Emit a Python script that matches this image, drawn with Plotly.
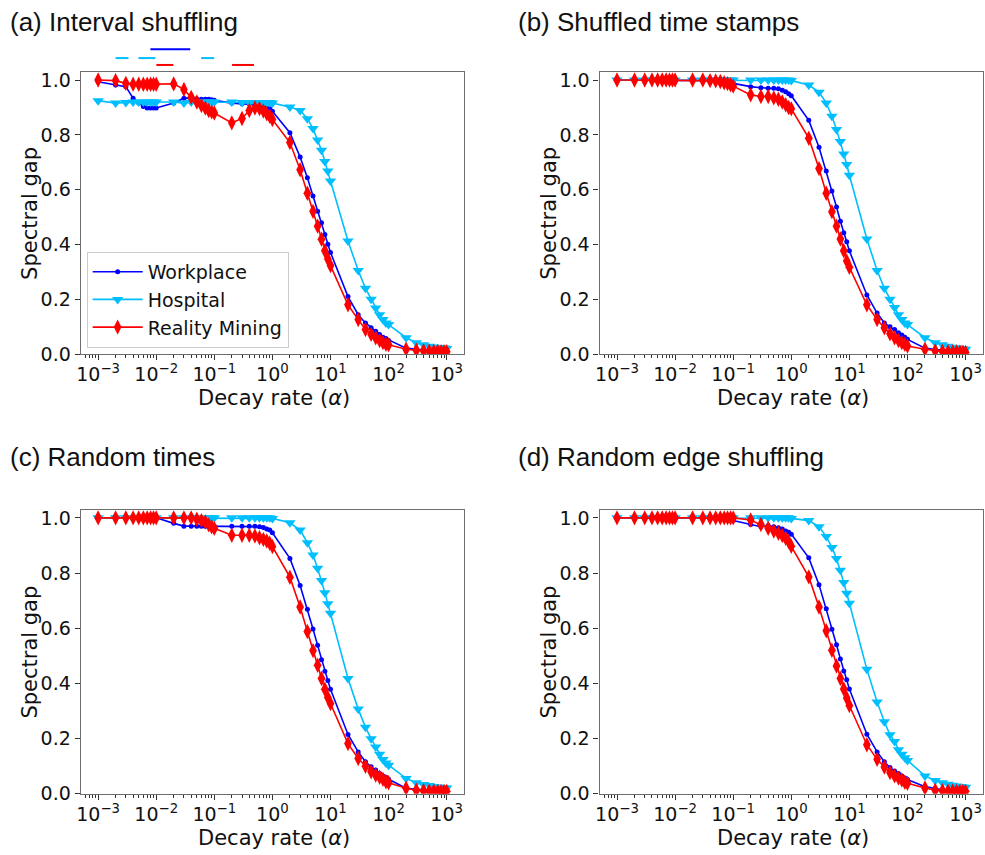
import plotly.graph_objects as go

# ---------------- data ----------------
alpha = [0.001, 0.002, 0.003, 0.004, 0.005, 0.006, 0.007, 0.008, 0.009,
         0.01, 0.02, 0.03, 0.04, 0.05, 0.06, 0.07, 0.08, 0.09,
         0.1, 0.2, 0.3, 0.4, 0.5, 0.6, 0.7, 0.8, 0.9,
         1, 2, 3, 4, 5, 6, 7, 8, 9,
         10, 20, 30, 40, 50, 60, 70, 80, 90,
         100, 200, 300, 400, 500, 600, 700, 800, 900,
         1000]

# (a) Interval shuffling
a_work = [0.994, 0.982, 0.976, 0.934, 0.916, 0.904, 0.898, 0.898, 0.898,
          0.898, 0.916, 0.934, 0.934, 0.932, 0.930, 0.930, 0.930, 0.928,
          0.926, 0.916, 0.914, 0.913, 0.910, 0.908, 0.904, 0.898, 0.895,
          0.886, 0.808, 0.719, 0.644, 0.577, 0.521, 0.479, 0.437, 0.401,
          0.371, 0.210, 0.144, 0.114, 0.096, 0.084, 0.072, 0.062, 0.057,
          0.050, 0.022, 0.018, 0.016, 0.015, 0.014, 0.013, 0.013, 0.012,
          0.012]
a_hosp = [0.925, 0.916, 0.918, 0.920, 0.920, 0.920, 0.920, 0.920, 0.920,
          0.920, 0.920, 0.916, 0.920, 0.920, 0.920, 0.920, 0.920, 0.920,
          0.920, 0.920, 0.918, 0.918, 0.918, 0.918, 0.918, 0.918, 0.918,
          0.916, 0.902, 0.889, 0.859, 0.823, 0.781, 0.744, 0.703, 0.668,
          0.632, 0.413, 0.305, 0.240, 0.200, 0.168, 0.144, 0.126, 0.114,
          0.108, 0.060, 0.042, 0.034, 0.029, 0.026, 0.024, 0.023, 0.022,
          0.021]
a_real = [1.000, 0.998, 0.988, 0.985, 0.985, 0.985, 0.985, 0.985, 0.985,
          0.985, 0.986, 0.966, 0.937, 0.920, 0.907, 0.898, 0.889, 0.884,
          0.880, 0.844, 0.860, 0.889, 0.898, 0.896, 0.887, 0.877, 0.868,
          0.856, 0.772, 0.673, 0.587, 0.521, 0.467, 0.419, 0.377, 0.347,
          0.323, 0.180, 0.126, 0.090, 0.072, 0.060, 0.050, 0.042, 0.036,
          0.034, 0.018, 0.014, 0.012, 0.011, 0.010, 0.010, 0.009, 0.009,
          0.009]

# (b) Shuffled time stamps
b_work = [1.0, 1.0, 1.0, 1.0, 1.0, 1.0, 1.0, 1.0, 1.0,
          1.0, 1.0, 1.0, 0.998, 0.997, 0.996, 0.995, 0.993, 0.991,
          0.988, 0.976, 0.972, 0.970, 0.970, 0.968, 0.963, 0.957, 0.950,
          0.943, 0.853, 0.755, 0.668, 0.595, 0.537, 0.485, 0.443, 0.410,
          0.377, 0.216, 0.150, 0.114, 0.100, 0.090, 0.078, 0.070, 0.062,
          0.054, 0.022, 0.017, 0.015, 0.014, 0.013, 0.012, 0.012, 0.011,
          0.011]
b_hosp = [1.0, 1.0, 1.0, 1.0, 1.0, 1.0, 1.0, 1.0, 1.0,
          1.0, 1.0, 1.0, 1.0, 1.0, 1.0, 1.0, 1.0, 1.0,
          1.0, 1.0, 1.0, 1.0, 1.0, 1.0, 1.0, 1.0, 1.0,
          0.998, 0.982, 0.956, 0.916, 0.868, 0.820, 0.776, 0.730, 0.692,
          0.653, 0.420, 0.305, 0.240, 0.200, 0.170, 0.144, 0.126, 0.114,
          0.108, 0.060, 0.042, 0.034, 0.029, 0.025, 0.023, 0.021, 0.020,
          0.018]
b_real = [1.0, 1.0, 1.0, 1.0, 1.0, 1.0, 1.0, 1.0, 1.0,
          1.0, 1.0, 1.0, 0.998, 0.997, 0.995, 0.990, 0.987, 0.983,
          0.978, 0.946, 0.940, 0.940, 0.935, 0.930, 0.920, 0.910, 0.900,
          0.895, 0.788, 0.677, 0.587, 0.520, 0.467, 0.420, 0.377, 0.340,
          0.317, 0.180, 0.126, 0.096, 0.074, 0.060, 0.050, 0.042, 0.036,
          0.030, 0.018, 0.012, 0.010, 0.009, 0.008, 0.008, 0.007, 0.007,
          0.006]

# (c) Random times
c_work = [1.0, 1.0, 1.0, 1.0, 1.0, 1.0, 1.0, 1.0, 1.0,
          1.0, 0.980, 0.970, 0.970, 0.970, 0.970, 0.970, 0.970, 0.970,
          0.970, 0.970, 0.970, 0.970, 0.970, 0.968, 0.965, 0.960, 0.956,
          0.946, 0.853, 0.755, 0.669, 0.597, 0.538, 0.486, 0.444, 0.411,
          0.379, 0.215, 0.152, 0.116, 0.098, 0.086, 0.074, 0.065, 0.060,
          0.053, 0.020, 0.016, 0.014, 0.013, 0.012, 0.012, 0.012, 0.012,
          0.012]
c_hosp = [1.0, 1.0, 1.0, 1.0, 1.0, 1.0, 1.0, 1.0, 1.0,
          1.0, 1.0, 1.0, 1.0, 1.0, 1.0, 1.0, 1.0, 1.0,
          1.0, 1.0, 1.0, 1.0, 1.0, 1.0, 1.0, 1.0, 1.0,
          0.998, 0.982, 0.956, 0.910, 0.865, 0.817, 0.773, 0.729, 0.689,
          0.654, 0.418, 0.307, 0.241, 0.200, 0.170, 0.143, 0.124, 0.112,
          0.104, 0.056, 0.040, 0.034, 0.030, 0.027, 0.025, 0.023, 0.022,
          0.021]
c_real = [1.0, 1.0, 1.0, 1.0, 1.0, 1.0, 1.0, 1.0, 1.0,
          1.0, 1.0, 1.0, 1.0, 0.995, 0.990, 0.985, 0.975, 0.968,
          0.962, 0.937, 0.937, 0.937, 0.934, 0.928, 0.922, 0.916, 0.908,
          0.896, 0.785, 0.677, 0.588, 0.519, 0.466, 0.418, 0.379, 0.349,
          0.327, 0.182, 0.128, 0.100, 0.080, 0.068, 0.060, 0.053, 0.044,
          0.040, 0.020, 0.013, 0.011, 0.010, 0.010, 0.009, 0.009, 0.009,
          0.009]

# (d) Random edge shuffling
d_work = [1.0, 1.0, 1.0, 1.0, 1.0, 1.0, 1.0, 1.0, 1.0,
          1.0, 1.0, 1.0, 1.0, 1.0, 1.0, 1.0, 1.0, 1.0,
          0.990, 0.976, 0.968, 0.972, 0.968, 0.964, 0.960, 0.952, 0.948,
          0.941, 0.855, 0.758, 0.671, 0.596, 0.540, 0.489, 0.445, 0.413,
          0.380, 0.216, 0.152, 0.116, 0.095, 0.083, 0.074, 0.065, 0.057,
          0.052, 0.026, 0.018, 0.015, 0.014, 0.013, 0.013, 0.012, 0.012,
          0.012]
d_hosp = [1.0, 1.0, 1.0, 1.0, 1.0, 1.0, 1.0, 1.0, 1.0,
          1.0, 1.0, 1.0, 1.0, 1.0, 1.0, 1.0, 1.0, 1.0,
          1.0, 1.0, 1.0, 1.0, 1.0, 1.0, 1.0, 1.0, 1.0,
          0.998, 0.990, 0.968, 0.932, 0.893, 0.853, 0.810, 0.766, 0.727,
          0.691, 0.451, 0.333, 0.261, 0.214, 0.190, 0.160, 0.143, 0.131,
          0.121, 0.065, 0.048, 0.040, 0.035, 0.031, 0.028, 0.026, 0.025,
          0.024]
d_real = [1.0, 1.0, 1.0, 1.0, 1.0, 1.0, 1.0, 1.0, 1.0,
          1.0, 1.0, 1.0, 1.0, 1.0, 1.0, 1.0, 1.0, 1.0,
          1.0, 0.992, 0.976, 0.962, 0.952, 0.944, 0.936, 0.926, 0.914,
          0.897, 0.786, 0.677, 0.591, 0.520, 0.463, 0.418, 0.380, 0.347,
          0.320, 0.178, 0.125, 0.097, 0.077, 0.065, 0.057, 0.050, 0.042,
          0.038, 0.021, 0.013, 0.011, 0.010, 0.010, 0.009, 0.009, 0.009,
          0.009]

panel_titles = ["(a) Interval shuffling", "(b) Shuffled time stamps",
                "(c) Random times", "(d) Random edge shuffling"]
series_names = ["Workplace", "Hospital", "Reality Mining"]
x_label = "Decay rate (<i>\u03b1</i>)"
y_label = "Spectral gap"
x_tick_vals = [1e-3, 1e-2, 1e-1, 1, 10, 100, 1000]
x_tick_text = ["10<sup>\u22123</sup>", "10<sup>\u22122</sup>", "10<sup>\u22121</sup>",
               "10<sup>0</sup>", "10<sup>1</sup>", "10<sup>2</sup>", "10<sup>3</sup>"]
y_tick_vals = [0.0, 0.2, 0.4, 0.6, 0.8, 1.0]
y_tick_text = ["0.0", "0.2", "0.4", "0.6", "0.8", "1.0"]
minor_vals = [m * 10 ** e for e in range(-4, 4) for m in range(2, 10)]

panels = [
    (a_work, a_hosp, a_real),
    (b_work, b_hosp, b_real),
    (c_work, c_hosp, c_real),
    (d_work, d_hosp, d_real),
]

# ---------------- styling / layout ----------------
FW, FH = 985, 855


def fx(px):
    return px / FW


def fy(py):
    return 1 - py / FH


# plot boxes in pixels: (left, right, top, bottom)
boxes = [(77, 462, 70, 357), (598, 983, 70, 357),
         (77, 462, 515, 804), (598, 983, 515, 804)]
title_pos = [(4, 19), (514, 19), (4, 462), (514, 462)]
colors = ["#0000ff", "#00bfff", "#ff0000"]
symbols = ["circle", "triangle-down", "diamond-tall"]
msizes = [5, 10, 11]

TICK_FONT = dict(family="DejaVu Sans", size=19, color="#111")
LABEL_FONT = dict(family="DejaVu Sans", size=21, color="#111")
TITLE_FONT = dict(family="Liberation Sans, Arial", size=26, color="#111")
AXIS_COLOR = "#6e6e6e"

fig = go.Figure()
annotations = []
layout_axes = {}

for i, (series, box) in enumerate(zip(panels, boxes)):
    n = i + 1
    xa = "x" if n == 1 else f"x{n}"
    ya = "y" if n == 1 else f"y{n}"
    for j, ys in enumerate(series):
        fig.add_trace(go.Scatter(
            x=alpha, y=ys, mode="lines+markers", name=series_names[j],
            xaxis=xa, yaxis=ya, showlegend=(n == 1),
            line=dict(color=colors[j], width=1.6),
            marker=dict(symbol=symbols[j], size=msizes[j], color=colors[j],
                        line=dict(width=0)),
        ))
    l, r, t, b = box
    layout_axes["xaxis" if n == 1 else f"xaxis{n}"] = dict(
        type="log", domain=[fx(l), fx(r)], range=[-3.3, 3.3], anchor=ya,
        showline=True, linecolor=AXIS_COLOR, linewidth=1.2, mirror=True,
        showgrid=False, zeroline=False,
        ticks="outside", ticklen=5, tickwidth=1, tickcolor="#333",
        tickvals=x_tick_vals, ticktext=x_tick_text, tickfont=TICK_FONT,
        ticklabelstandoff=-2,
        minor=dict(ticks="outside", ticklen=3, tickwidth=0.8, tickcolor="#333",
                   tickvals=minor_vals, showgrid=False),
    )
    layout_axes["yaxis" if n == 1 else f"yaxis{n}"] = dict(
        domain=[fy(b), fy(t)], range=[0, 1.03], anchor=xa,
        showline=True, linecolor=AXIS_COLOR, linewidth=1.2, mirror=True,
        showgrid=False, zeroline=False,
        ticks="outside", ticklen=5, tickwidth=1, tickcolor="#333",
        tickvals=y_tick_vals, ticktext=y_tick_text, tickfont=TICK_FONT,
    )
    tx, ty = title_pos[i]
    annotations.append(dict(
        text=panel_titles[i], xref="paper", yref="paper",
        x=fx(tx), y=fy(ty), xanchor="left", yanchor="middle",
        showarrow=False, font=TITLE_FONT))
    annotations.append(dict(
        text=x_label, xref="paper", yref="paper",
        x=fx((l + r) / 2 + 2), y=fy(b + 45), xanchor="center", yanchor="middle",
        showarrow=False, font=LABEL_FONT))
    annotations.append(dict(
        text=y_label, xref="paper", yref="paper",
        x=fx(l - 51), y=fy((t + b) / 2), xanchor="center", yanchor="middle",
        textangle=-90, showarrow=False, font=LABEL_FONT))

# small stray line fragments above panel (a) in the reference
stray = [((147, 187), 47, colors[0]),
         ((112, 125), 56, colors[1]), ((135, 152), 56, colors[1]), ((198, 211), 56, colors[1]),
         ((153, 170), 63, colors[2]), ((229, 251), 63, colors[2])]
shapes = []
for (x0, x1), yy, c in stray:
    shapes.append(dict(type="line", xref="paper", yref="paper",
                       x0=fx(x0), x1=fx(x1), y0=fy(yy), y1=fy(yy),
                       line=dict(color=c, width=2)))

fig.update_layout(
    width=FW, height=FH,
    margin=dict(l=0, r=0, t=0, b=0),
    paper_bgcolor="white", plot_bgcolor="white",
    annotations=annotations, shapes=shapes,
    hovermode=False,
    legend=dict(x=fx(83), y=fy(253), xanchor="left", yanchor="top",
                bgcolor="white", bordercolor="#cccccc", borderwidth=1,
                font=dict(family="DejaVu Sans", size=19, color="#111"),
                itemwidth=50, tracegroupgap=0),
    **layout_axes,
)

fig.write_html("out.html",
               config={"displayModeBar": False},
               post_script="document.body.style.margin='0px';")
